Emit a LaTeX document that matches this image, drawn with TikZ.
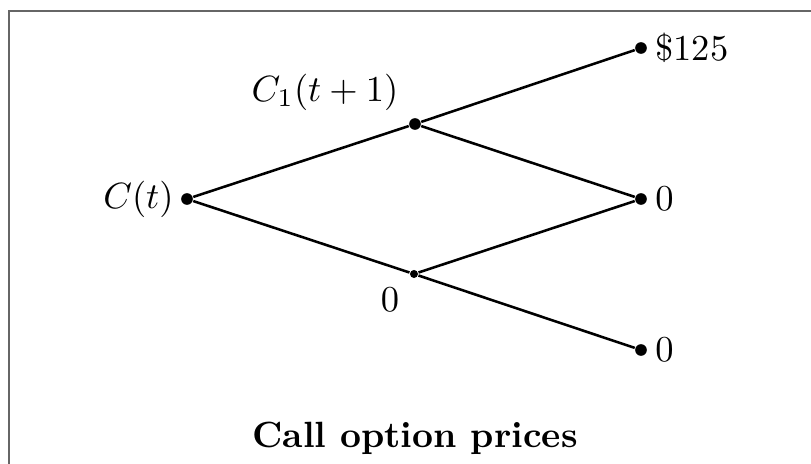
\documentclass[tikz,border=0pt]{standalone}
\begin{document}
\begin{tikzpicture}[x=0.274pt,y=-0.274pt,
  bigdot/.style={circle,fill=black,inner sep=0pt,minimum size=3.2pt},
  smalldot/.style={circle,fill=black,inner sep=0pt,minimum size=2.2pt},
  branch/.style={line width=0.7pt},
  frameline/.style={line width=0.55pt,draw=black!60}]
\useasboundingbox (0,0) rectangle (811,464);
\draw[frameline] (9,464) -- (9,11.5) -- (811,11.5);
\node[bigdot] (a) at (187,199) {};
\node[bigdot] (u) at (415,124) {};
\node[smalldot] (d) at (414,274) {};
\node[bigdot] (uu) at (641,48) {};
\node[bigdot] (ud) at (641,199) {};
\node[bigdot] (dd) at (641,350) {};
\draw[branch] (a) -- (u);
\draw[branch] (a) -- (d);
\draw[branch] (u) -- (uu);
\draw[branch] (u) -- (ud);
\draw[branch] (d) -- (ud);
\draw[branch] (d) -- (dd);
\node[anchor=east,inner sep=1pt] (la) at (178,199) {$C(t)$};
\node (lu) at (325,92) {$C_1(t+1)$};
\node (ld) at (390,300) {$0$};
\node[anchor=west,inner sep=1pt] (luu) at (651,48) {\$125};
\node[anchor=west,inner sep=1pt] (lud) at (651,199) {$0$};
\node[anchor=west,inner sep=1pt] (ldd) at (651,350) {$0$};
\node (title) at (415,438) {\bfseries Call option prices};
\end{tikzpicture}
\end{document}
